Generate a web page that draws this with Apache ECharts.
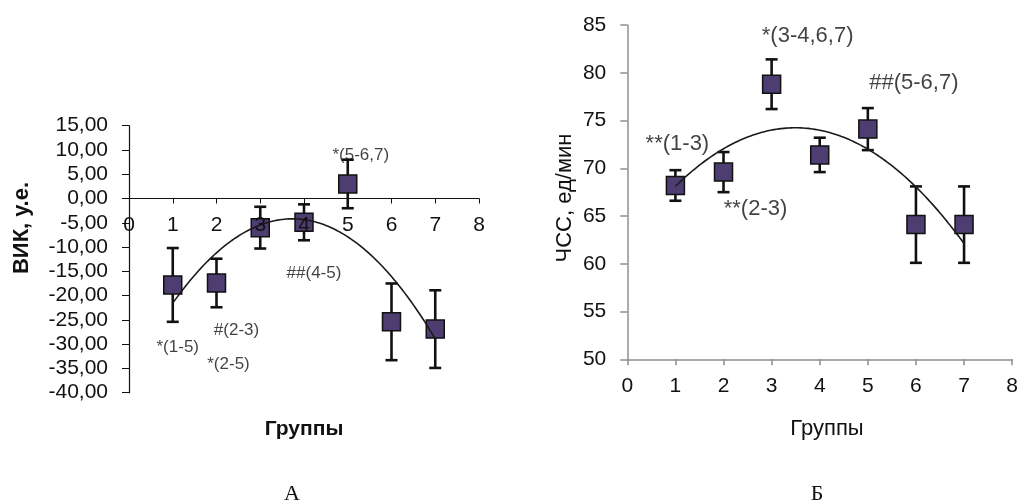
<!DOCTYPE html>
<html>
<head>
<meta charset="utf-8">
<title>ВИК и ЧСС по группам</title>
<script src="https://cdn.jsdelivr.net/npm/echarts@6/dist/echarts.min.js"></script>
<style>
  html, body { margin: 0; padding: 0; background: #ffffff; }
  #chart { width: 1021px; height: 504px; }
</style>
</head>
<body>
<div id="chart"></div>
<script>
// Groups 1..7 (shared by both panels)
const groups = [1, 2, 3, 4, 5, 6, 7];

// Panel А: ВИК, у.е. — mean and error per group
const vikMean = [-17.8, -17.4, -6.0, -4.9, 3.0, -25.4, -26.9];
const vikErr  = [7.6, 5.0, 4.3, 3.7, 5.0, 7.9, 8.0];

// Panel Б: ЧСС, ед/мин — mean and error per group
const hrMean = [68.2, 69.6, 78.8, 71.4, 74.1, 64.1, 64.1];
const hrErr  = [1.6, 2.1, 2.6, 1.8, 2.2, 4.0, 4.0];

// Significance notes: text and the group each note belongs to
const vikNotes      = ['*(5-6,7)', '##(4-5)', '#(2-3)', '*(1-5)', '*(2-5)'];
const vikNoteGroups = [5, 4, 2, 1, 2];
const hrNotes       = ['*(3-4,6,7)', '##(5-6,7)', '**(1-3)', '**(2-3)'];
const hrNoteGroups  = [3, 5, 1, 2];

// Axis tick ranges
const vikTicks = { min: -40, max: 15, step: 5 };
const hrTicks  = { min: 50, max: 85, step: 5 };
const groupTicks = { min: 0, max: 8, step: 1 };

// ---- layout / style (kept apart from the data) ----
const SANS = "'Liberation Sans', Arial, sans-serif";
const SERIF = "'Liberation Serif', 'Times New Roman', serif";
const TEXT = '#111111';
const MARK_FILL = '#4d3d71';
const vikNoteOffsets = [[13, -29], [10, 51], [20, 47], [5, 62], [12, 81]];
const hrNoteOffsets  = [[36, -48], [46, -46], [2, -42], [32, 37]];

const gridA = { left: 129, right: 542, top: 125.7, bottom: 111.3 };
const gridB = { left: 627.3, right: 8.7, top: 25, bottom: 144.7 };
const gridAHeight = 504 - gridA.top - gridA.bottom;
// the group axis of panel А crosses the value axis at zero, labels included
const zeroLift = -gridAHeight * (0 - vikTicks.min) / (vikTicks.max - vikTicks.min);

// Least-squares quadratic (polynomial trend, order 2)
function quadFit(xs, ys) {
  let s0 = xs.length, s1 = 0, s2 = 0, s3 = 0, s4 = 0, t0 = 0, t1 = 0, t2 = 0;
  xs.forEach((x, i) => {
    const y = ys[i];
    s1 += x; s2 += x * x; s3 += x * x * x; s4 += x * x * x * x;
    t0 += y; t1 += x * y; t2 += x * x * y;
  });
  const M = [[s0, s1, s2, t0], [s1, s2, s3, t1], [s2, s3, s4, t2]];
  for (let c = 0; c < 3; c++) {
    for (let r = c + 1; r < 3; r++) {
      const f = M[r][c] / M[c][c];
      for (let k = c; k < 4; k++) M[r][k] -= f * M[c][k];
    }
  }
  const coef = [0, 0, 0];
  for (let r = 2; r >= 0; r--) {
    let v = M[r][3];
    for (let k = r + 1; k < 3; k++) v -= M[r][k] * coef[k];
    coef[r] = v / M[r][r];
  }
  return x => coef[0] + coef[1] * x + coef[2] * x * x;
}

function trendPoints(xs, ys) {
  const f = quadFit(xs, ys);
  const lo = xs[0], hi = xs[xs.length - 1], n = 120;
  const pts = [];
  for (let i = 0; i <= n; i++) {
    const x = lo + (hi - lo) * i / n;
    pts.push([x, f(x)]);
  }
  return pts;
}

function errorBarItem(params, api) {
  const x = api.value(0);
  const top = api.coord([x, api.value(2)]);
  const bot = api.coord([x, api.value(1)]);
  const half = 6;
  const style = { stroke: '#111', lineWidth: 2.6 };
  return {
    type: 'group',
    children: [
      { type: 'line', shape: { x1: top[0], y1: top[1], x2: bot[0], y2: bot[1] }, style },
      { type: 'line', shape: { x1: top[0] - half, y1: top[1], x2: top[0] + half, y2: top[1] }, style },
      { type: 'line', shape: { x1: bot[0] - half, y1: bot[1], x2: bot[0] + half, y2: bot[1] }, style }
    ]
  };
}

function panelSeries(idx, mean, err, notes, noteGroups, offsets, noteSize) {
  return [
    {
      type: 'custom', xAxisIndex: idx, yAxisIndex: idx, z: 2, silent: true,
      renderItem: errorBarItem,
      encode: { x: 0, y: [1, 2] },
      data: groups.map((g, i) => [g, mean[i] - err[i], mean[i] + err[i]])
    },
    {
      type: 'scatter', xAxisIndex: idx, yAxisIndex: idx, z: 3, silent: true,
      symbol: 'rect', symbolSize: 18,
      itemStyle: { color: MARK_FILL, borderColor: '#111', borderWidth: 1.5, opacity: 1 },
      data: groups.map((g, i) => [g, mean[i]])
    },
    {
      type: 'line', xAxisIndex: idx, yAxisIndex: idx, z: 4, silent: true,
      showSymbol: false, smooth: false,
      lineStyle: { color: '#1a1a1a', width: 1.6 },
      data: trendPoints(groups, mean)
    },
    {
      type: 'scatter', xAxisIndex: idx, yAxisIndex: idx, z: 5, silent: true,
      symbolSize: 1, itemStyle: { color: 'rgba(0,0,0,0)' },
      data: notes.map((t, i) => {
        const g = noteGroups[i];
        return {
          value: [g, mean[groups.indexOf(g)]],
          label: {
            show: true, position: 'inside', formatter: t,
            offset: offsets[i], fontFamily: SANS, fontSize: noteSize, color: TEXT
          }
        };
      })
    }
  ];
}

const chart = echarts.init(document.getElementById('chart'), null, { renderer: 'canvas' });

const option = {
  backgroundColor: '#ffffff',
  animation: false,
  grid: [
    Object.assign({ containLabel: false }, gridA),
    Object.assign({ containLabel: false }, gridB)
  ],
  xAxis: [
    {
      gridIndex: 0, type: 'value', position: 'bottom', offset: zeroLift,
      min: groupTicks.min, max: groupTicks.max, interval: groupTicks.step,
      z: 10,
      axisLine: { onZero: false, lineStyle: { color: '#111', width: 1.2 } },
      axisTick: { show: true, inside: false, length: 5, lineStyle: { color: '#111' } },
      axisLabel: { margin: 16, fontFamily: SANS, fontSize: 21, color: TEXT },
      splitLine: { show: false }
    },
    {
      gridIndex: 1, type: 'value',
      min: groupTicks.min, max: groupTicks.max, interval: groupTicks.step,
      axisLine: { onZero: false, lineStyle: { color: '#8f8f8f', width: 1.5 } },
      axisTick: { show: true, inside: false, length: 6, lineStyle: { color: '#8f8f8f', width: 1.5 } },
      axisLabel: { margin: 16, fontFamily: SANS, fontSize: 21, color: TEXT },
      splitLine: { show: false }
    }
  ],
  yAxis: [
    {
      gridIndex: 0, type: 'value',
      min: vikTicks.min, max: vikTicks.max, interval: vikTicks.step,
      axisLine: { show: true, onZero: false, lineStyle: { color: '#111', width: 1.2 } },
      axisTick: { show: true, inside: false, length: 7, lineStyle: { color: '#111' } },
      axisLabel: {
        margin: 21, fontFamily: SANS, fontSize: 21, color: TEXT,
        formatter: v => v.toFixed(2).replace('.', ',')
      },
      splitLine: { show: false }
    },
    {
      gridIndex: 1, type: 'value',
      min: hrTicks.min, max: hrTicks.max, interval: hrTicks.step,
      axisLine: { show: true, onZero: false, lineStyle: { color: '#8f8f8f', width: 1.5 } },
      axisTick: { show: true, inside: false, length: 7, lineStyle: { color: '#8f8f8f', width: 1.5 } },
      axisLabel: { margin: 21, fontFamily: SANS, fontSize: 21, color: TEXT },
      splitLine: { show: false }
    }
  ],
  graphic: [
    {
      type: 'text', x: 22, y: 228, rotation: Math.PI / 2,
      style: { text: 'ВИК, у.е.', font: 'bold 22px ' + SANS, fill: TEXT, align: 'center', verticalAlign: 'middle' }
    },
    {
      type: 'text', x: 304, y: 429,
      style: { text: 'Группы', font: 'bold 21px ' + SANS, fill: TEXT, align: 'center', verticalAlign: 'middle' }
    },
    {
      type: 'text', x: 292, y: 494,
      style: { text: 'А', font: '22px ' + SERIF, fill: TEXT, align: 'center', verticalAlign: 'middle' }
    },
    {
      type: 'text', x: 565, y: 198, rotation: Math.PI / 2,
      style: { text: 'ЧСС, ед/мин', font: '22px ' + SANS, fill: TEXT, align: 'center', verticalAlign: 'middle' }
    },
    {
      type: 'text', x: 827, y: 429,
      style: { text: 'Группы', font: '22px ' + SANS, fill: TEXT, align: 'center', verticalAlign: 'middle' }
    },
    {
      type: 'text', x: 817, y: 494,
      style: { text: 'Б', font: '22px ' + SERIF, fill: TEXT, align: 'center', verticalAlign: 'middle' }
    }
  ],
  series: [
    ...panelSeries(0, vikMean, vikErr, vikNotes, vikNoteGroups, vikNoteOffsets, 17),
    ...panelSeries(1, hrMean, hrErr, hrNotes, hrNoteGroups, hrNoteOffsets, 22)
  ]
};

chart.setOption(option);
</script>
</body>
</html>
